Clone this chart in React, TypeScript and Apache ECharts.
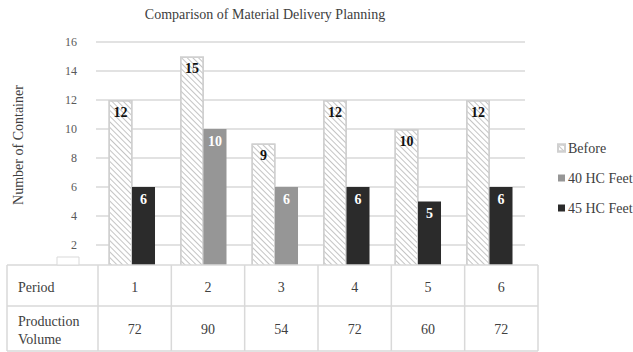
import React, { useEffect, useRef } from "react";
import * as echarts from "echarts";

const periods = ["1", "2", "3", "4", "5", "6"];
const productionVolume = ["72", "90", "54", "72", "60", "72"];
const beforeValues = [12, 15, 9, 12, 10, 12];
const hc40Values: (number | string)[] = ["-", 10, 6, "-", "-", "-"];
const hc45Values: (number | string)[] = [6, "-", "-", 6, 5, 6];
const yTicks = { min: 0, max: 16, interval: 2 };

const FONT = "Liberation Serif";

export default function App() {
  const ref = useRef<HTMLDivElement>(null);
  useEffect(() => {
    document.body.style.margin = "0";
    const chart = echarts.init(ref.current!, null, { renderer: "svg" });

    const tableLeft = 7;
    const firstColRight = 98;
    const tableRight = 538;
    const rowTop = 265;
    const rowMid = 306;
    const rowBottom = 351;
    const colW = (tableRight - firstColRight) / periods.length;
    const lineStyle = { stroke: "#d9d9d9", lineWidth: 1.5 };
    const tableEls: any[] = [
      {
        type: "rect",
        shape: { x: tableLeft, y: rowTop, width: tableRight - tableLeft, height: 352 - rowTop },
        style: { fill: "#fff" },
        z: 100,
      },
    ];
    [rowTop, rowMid, rowBottom].forEach((y) =>
      tableEls.push({
        type: "line",
        shape: { x1: tableLeft, y1: y, x2: tableRight, y2: y },
        style: lineStyle,
        z: 101,
      })
    );
    const edges = [tableLeft, firstColRight];
    periods.forEach((_, i) => edges.push(firstColRight + colW * (i + 1)));
    edges.forEach((x) =>
      tableEls.push({
        type: "line",
        shape: { x1: x, y1: rowTop, x2: x, y2: rowBottom },
        style: lineStyle,
        z: 101,
      })
    );
    const txt = (text: string, x: number, y: number, align = "center") => ({
      type: "text",
      x,
      y,
      z: 102,
      style: {
        text,
        fill: "#404040",
        fontFamily: FONT,
        fontSize: 14,
        textAlign: align,
        textVerticalAlign: "middle",
      },
    });
    tableEls.push(txt("Period", 18, 287, "left"));
    tableEls.push(txt("Production", 18, 321, "left"));
    tableEls.push(txt("Volume", 18, 339, "left"));
    periods.forEach((p, i) => {
      const cx = firstColRight + colW * (i + 0.5);
      tableEls.push(txt(p, cx, 287));
      tableEls.push(txt(productionVolume[i], cx, 329));
    });
    // small legend-key box of the data table
    tableEls.push({
      type: "rect",
      shape: { x: 57, y: 257, width: 22, height: 8 },
      style: { fill: "#fff", stroke: "#d9d9d9", lineWidth: 1 },
      z: 101,
    });
    tableEls.push({
      type: "text",
      x: 18,
      y: 145,
      rotation: Math.PI / 2,
      style: {
        text: "Number of Container",
        fill: "#404040",
        fontFamily: FONT,
        fontSize: 14,
        textAlign: "center",
        textVerticalAlign: "middle",
      },
    });

    const labelStyle = (color: string) => ({
      show: true,
      position: "insideTop" as const,
      distance: 5,
      color,
      fontFamily: FONT,
      fontWeight: "bold" as const,
      fontSize: 14,
    });

    chart.setOption({
      animation: false,
      textStyle: { fontFamily: FONT },
      title: {
        text: "Comparison of Material Delivery Planning",
        left: 260,
        top: 2,
        textAlign: "center",
        textStyle: { fontFamily: FONT, fontWeight: "normal", fontSize: 14, color: "#404040" },
      },
      legend: {
        orient: "vertical",
        left: 552,
        top: 136,
        itemWidth: 7,
        itemHeight: 7,
        itemGap: 16,
        icon: "rect",
        textStyle: { fontFamily: FONT, fontSize: 14, color: "#404040", padding: [0, 0, 0, -2] },
        data: ["Before", "40 HC Feet", "45 HC Feet"],
      },
      grid: { left: 96, right: 108, top: 42, bottom: 78 },
      xAxis: {
        type: "category",
        data: periods,
        axisLine: { show: false },
        axisTick: { show: false },
        axisLabel: { show: false },
      },
      yAxis: {
        type: "value",
        min: yTicks.min,
        max: yTicks.max,
        interval: yTicks.interval,
        axisLine: { show: false },
        axisTick: { show: false },
        axisLabel: {
          margin: 19,
          fontFamily: FONT,
          fontSize: 12,
          color: "#595959",
          formatter: (v: number) => (v === 0 ? "" : String(v)),
        },
        splitLine: { lineStyle: { color: "#d9d9d9", width: 1.5 } },
      },
      series: [
        {
          name: "Before",
          type: "bar",
          data: beforeValues,
          barWidth: 24,
          barGap: "-2%",
          itemStyle: {
            color: "#ffffff",
            borderColor: "#d0d0d0",
            borderWidth: 1.5,
            decal: {
              symbol: "rect",
              color: "#c4c4c4",
              dashArrayX: [1, 0],
              dashArrayY: [1, 2.5],
              rotation: Math.PI / 4,
              symbolSize: 1,
            },
          },
          label: labelStyle("#111"),
        },
        {
          name: "40 HC Feet",
          type: "bar",
          stack: "after",
          data: hc40Values,
          barWidth: 23,
          itemStyle: { color: "#969696" },
          label: labelStyle("#fff"),
        },
        {
          name: "45 HC Feet",
          type: "bar",
          stack: "after",
          data: hc45Values,
          barWidth: 23,
          itemStyle: { color: "#2b2b2b" },
          label: labelStyle("#fff"),
        },
      ],
      graphic: tableEls,
    });
    return () => chart.dispose();
  }, []);
  return <div ref={ref} style={{ width: 633, height: 352 }} />;
}
